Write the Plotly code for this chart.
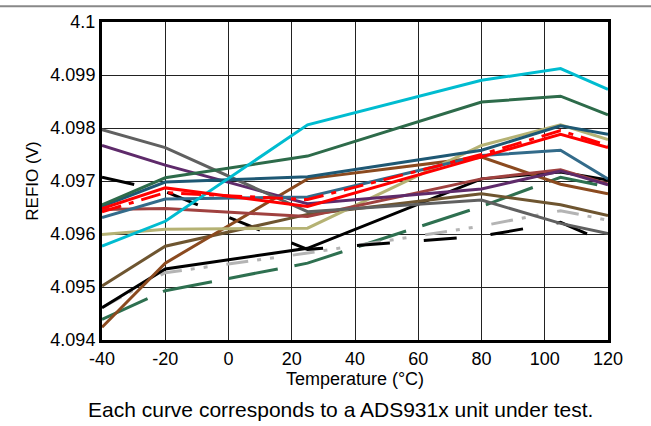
import plotly.graph_objects as go

temps = [-40, -20, 25, 80, 105, 120]

cyan_v      = [4.09577, 4.09624, 4.09806, 4.09890, 4.09912, 4.09873]
dkgreen_v   = [4.09655, 4.09706, 4.09747, 4.09849, 4.09860, 4.09825]
gray_v      = [4.09797, 4.09763, 4.09642, 4.09664, 4.09620, 4.09601]
purple_v    = [4.09767, 4.09730, 4.09657, 4.09685, 4.09719, 4.09693]
dkteal_v    = [4.09652, 4.09698, 4.09708, 4.09758, 4.09804, 4.09788]
teal_v      = [4.09631, 4.09666, 4.09670, 4.09748, 4.09758, 4.09704]
maroon_v    = [4.09646, 4.09648, 4.09633, 4.09704, 4.09721, 4.09694]
khaki_v     = [4.09599, 4.09609, 4.09611, 4.09767, 4.09806, 4.09778]
brown_v     = [4.09424, 4.09545, 4.09704, 4.09745, 4.09694, 4.09676]
olive_v     = [4.09502, 4.09577, 4.09637, 4.09676, 4.09655, 4.09635]
black_v     = [4.09461, 4.09534, 4.09573, 4.09704, 4.09717, 4.09702]
blackdash_v = [4.09707, 4.09680, 4.09571, 4.09596, 4.09622, 4.09583]
graydash_v  = [4.09461, 4.09527, 4.09564, 4.09615, 4.09644, 4.09626]
greendash_v = [4.09439, 4.09493, 4.09545, 4.09652, 4.09707, 4.09689]
red_v       = [4.09648, 4.09687, 4.09652, 4.09745, 4.09788, 4.09763]
reddash_v   = [4.09642, 4.09678, 4.09665, 4.09750, 4.09795, 4.09767]

x_ticks = [-40, -20, 0, 20, 40, 60, 80, 100, 120]
x_labels = ["-40", "-20", "0", "20", "40", "60", "80", "100", "120"]
y_ticks = [4.094, 4.095, 4.096, 4.097, 4.098, 4.099, 4.1]
y_labels = ["4.094", "4.095", "4.096", "4.097", "4.098", "4.099", "4.1"]

series = [
    (greendash_v, "#2E7050", "50px,17px"),
    (graydash_v, "#B4B4B4", "22px,9px,4px,9px,4px,19px"),
    (blackdash_v, "#000000", "33px,34px"),
    (black_v, "#000000", "solid"),
    (olive_v, "#6E5530", "solid"),
    (brown_v, "#8B4A1F", "solid"),
    (khaki_v, "#B5B274", "solid"),
    (maroon_v, "#A0413F", "solid"),
    (purple_v, "#5E2A6A", "solid"),
    (gray_v, "#606060", "solid"),
    (teal_v, "#336B8A", "solid"),
    (dkteal_v, "#1E5874", "solid"),
    (dkgreen_v, "#2D6B4A", "solid"),
    (cyan_v, "#00BCD0", "solid"),
    (red_v, "#FF0000", "solid"),
    (reddash_v, "#FF0000", "20px,8px,5px,8px"),
]

fig = go.Figure()
for vals, col, dash in series:
    fig.add_trace(go.Scatter(x=temps, y=vals, mode="lines",
                             line=dict(color=col, width=3, dash=dash),
                             showlegend=False, hoverinfo="skip"))

W, H = 651, 426
L, R, T, B = 102, 43, 18, 86
pw = W - L - R
ph = H - T - B

fig.update_layout(
    width=W, height=H,
    margin=dict(l=L, r=R, t=T, b=B),
    paper_bgcolor="white", plot_bgcolor="white",
    font=dict(family="Liberation Sans, Arial, sans-serif", size=18, color="#000000"),
    xaxis=dict(range=[-40, 120], tickvals=x_ticks, ticktext=x_labels, ticks="",
               showgrid=True, gridcolor="#222222", gridwidth=1, zeroline=False,
               showline=True, linecolor="black", linewidth=3, mirror=True,
               title=dict(text="Temperature (°C)", font=dict(size=18), standoff=2),
               tickfont=dict(size=18)),
    yaxis=dict(range=[4.094, 4.1], tickvals=y_ticks, ticktext=y_labels, ticks="",
               showgrid=True, gridcolor="#222222", gridwidth=1, zeroline=False,
               showline=True, linecolor="black", linewidth=3, mirror=True,
               title=dict(text="REFIO (V)", font=dict(size=17), standoff=8),
               tickfont=dict(size=18)),
    shapes=[dict(type="line", xref="paper", yref="paper",
                 x0=-L / pw, x1=(W - L) / pw, y0=1 + (T - 2) / ph, y1=1 + (T - 2) / ph,
                 line=dict(color="#888888", width=2))],
    annotations=[dict(text="Each curve corresponds to a ADS931x unit under test.",
                      xref="paper", yref="paper", x=(340 - L) / pw, y=-(410 - T - ph) / ph,
                      xanchor="center", yanchor="middle", showarrow=False,
                      font=dict(size=21))],
)

fig.write_html("out.html", config={"displayModeBar": False},
               post_script="document.body.style.margin='0';")
